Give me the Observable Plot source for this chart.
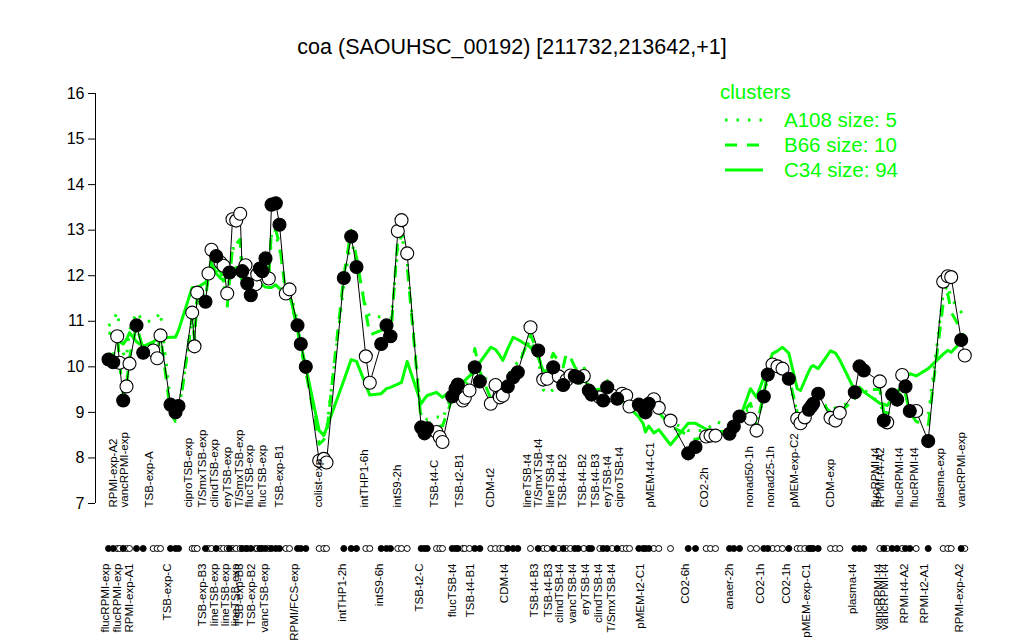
<!DOCTYPE html>
<html><head><meta charset="utf-8">
<script src="https://cdn.jsdelivr.net/npm/d3@7"></script>
<script src="https://cdn.jsdelivr.net/npm/@observablehq/plot@0.6"></script>
<style>
body{margin:0;background:#fff;font-family:"Liberation Sans",Arial,Helvetica,sans-serif;}
#wrap{position:relative;width:1024px;height:640px;overflow:hidden;}
#chart{position:absolute;left:0;top:0;}
#title{position:absolute;left:0;top:35px;width:1024px;text-align:center;font-size:21.5px;line-height:24px;color:#000;}
.leg{position:absolute;color:#00ff00;font-size:20.5px;line-height:24px;white-space:nowrap;}
.legsw{position:absolute;}
</style></head><body>
<div id="wrap"><div id="chart"></div><div id="title"></div><div id="legend"></div></div>
<script>
const titleText = "coa (SAOUHSC_00192) [211732,213642,+1]";

// sample positions along the x axis
const pos = [
8,12.7,16.7,19,22.7,26,29,36,42.7,52.7,
56.7,60,70,75,78,91.7,94,96.7,105,108,
111,115.7,120,123,126.7,129,132,135.7,139.7,141.7,
145,146.7,150.3,155,156.7,159.3,161.7,165,168.3,171,
175.3,179,185.3,189,197,200.3,205.3,218.7,223.3,226,
243.3,250.7,256,265.3,269.3,280.7,286,290,297.3,301,
306.7,320.7,324,326.7,336,339.3,342,351.7,355,357.3,
362.3,364.3,369,374.3,379.3,390.3,395,399.3,402.3,407.3,
412.7,417.3,430,437.7,442.7,446.7,452.7,458.3,462.7,466,
470,474.3,477.7,483.3,488.3,491,499.3,502.7,506.7,511.7,
516.7,521.7,525.7,529,538.3,542.7,545,548.3,553.3,558.3,
570,587.7,595,605.7,610,615,629,633.3,639,650,
656,663.3,667.3,672,677,682,688.3,696.7,700,704.3,
708.3,710.7,712.7,717.7,730,735,739.3,754.3,759,763.3,
779.3,783.3,786.7,791.7,796.7,801.7,805,809.3,815.7,827.7,
842.7,847.3,850.7,860.7,864.3];

const values = [
10.16,10.10,10.67,10.09,9.26,9.57,10.07,10.91,10.31,10.36,
10.19,10.69,9.17,9.0,9.14,11.19,10.45,11.63,11.43,12.05,
12.57,12.43,12.29,12.22,11.61,12.07,13.24,13.21,13.36,12.1,
12.23,11.83,11.57,11.81,12.03,12.16,12.1,12.38,11.94,13.56,
13.59,13.12,11.61,11.7,10.91,10.5,10.0,7.94,7.98,7.9,
11.95,12.86,12.19,10.23,9.65,10.5,10.91,10.67,12.98,13.22,
12.49,8.67,8.54,8.65,8.57,8.46,8.35,9.35,9.52,9.61,
9.26,9.32,9.48,9.99,9.68,9.19,9.6,9.33,9.37,9.57,
9.77,9.88,10.87,10.36,9.72,9.74,9.99,9.79,9.6,9.71,
9.81,9.8,9.76,9.8,9.48,9.39,9.33,9.26,9.55,9.37,
9.3,9.41,9.37,9.13,9.17,9.09,9.0,9.19,9.29,9.1,
8.82,8.1,8.24,8.47,8.49,8.49,8.53,8.69,8.91,8.86,
8.6,9.35,9.83,10.05,10.01,9.96,9.74,8.86,8.76,8.89,
9.06,9.13,9.19,9.41,8.88,8.82,8.99,9.44,10.01,9.92,
9.68,8.82,8.78,9.39,9.28,9.82,9.57,9.03,9.03,8.37,
11.87,11.99,11.97,10.59,10.25];

const filled = [
1,1,0,0,1,0,0,1,1,0,
0,0,1,1,1,0,0,0,1,0,
0,1,0,0,0,1,0,0,0,1,
0,1,1,0,0,1,1,1,0,1,
1,1,0,0,1,1,1,0,0,0,
1,1,1,0,0,1,1,1,0,0,
0,1,1,1,0,0,0,1,1,1,
0,0,0,1,1,0,0,0,0,1,
1,1,0,1,0,0,1,0,1,0,
0,1,1,0,1,1,0,1,1,0,
1,0,0,0,1,1,1,1,0,0,
0,1,1,0,0,0,1,1,1,0,
0,1,1,0,0,0,1,0,0,0,
1,1,1,1,0,0,0,1,1,1,
0,1,0,1,1,0,1,1,0,1,
0,0,0,1,0];

const C34 = [
10.75,10.7,10.6,10.55,10.5,10.6,10.75,10.55,10.45,10.55,
10.6,10.62,10.65,10.65,10.8,11.74,11.74,11.74,11.85,12.0,
12.27,12.05,11.95,11.9,12.0,12.05,12.12,12.18,12.0,11.9,
11.9,11.85,11.8,11.78,11.76,11.74,11.8,11.75,11.74,11.74,
11.8,11.72,11.68,11.6,10.87,10.5,10.0,8.6,8.5,8.65,
9.7,10.16,10.12,9.6,9.38,9.41,9.52,9.55,9.62,9.66,
10.12,9.19,9.3,9.37,9.44,9.38,9.33,9.5,9.52,9.55,
9.65,9.7,9.8,9.88,10.1,10.43,10.38,10.25,10.14,10.4,
10.65,10.6,10.43,10.2,9.92,9.9,9.85,9.81,9.8,9.8,
9.8,9.78,9.78,9.7,9.6,9.55,9.45,9.4,9.33,9.3,
9.28,9.25,9.2,9.1,8.9,8.75,8.57,8.7,8.55,8.62,
8.29,8.76,8.76,8.63,8.6,8.58,8.58,8.6,8.85,9.52,
9.33,9.77,10.0,10.29,10.35,10.43,10.3,9.52,9.48,9.7,
9.9,10.0,10.03,9.96,10.35,10.3,10.15,9.48,9.55,9.45,
9.2,9.18,9.15,9.3,9.45,9.6,9.75,9.85,9.8,9.96,
10.28,10.36,10.32,10.55,10.6];

const B66 = [
10.3,10.2,10.8,10.1,9.4,9.6,10.2,10.9,10.4,10.5,
10.3,10.7,9.0,8.8,8.9,11.1,10.6,11.5,11.5,12.0,
12.4,12.2,12.1,11.9,11.3,11.9,12.6,12.7,12.8,12.0,
12.0,11.8,11.6,11.8,11.9,12.0,12.0,12.2,12.0,13.0,
13.0,12.7,11.6,11.6,10.8,10.4,9.9,8.3,8.4,8.5,
12.0,13.0,12.4,11.2,10.7,10.8,10.8,10.6,12.8,13.0,
12.2,8.8,8.7,8.75,8.8,8.7,8.7,9.3,9.5,9.6,
9.3,9.4,9.6,10.4,9.9,9.3,9.7,9.4,9.5,9.7,
9.9,10.0,10.7,10.3,9.8,9.9,10.3,10.1,10.0,10.3,
10.2,10.0,9.9,10.0,9.6,9.5,9.5,9.6,9.7,9.5,
9.4,9.4,9.2,9.05,9.1,9.0,8.9,9.1,9.2,9.0,
8.7,8.5,8.4,8.5,8.55,8.5,8.6,8.7,8.9,9.2,
8.7,9.4,9.9,10.1,10.0,10.0,9.8,9.0,8.9,9.0,
9.05,9.1,9.15,9.3,9.0,8.9,9.0,9.3,9.5,9.5,
9.5,9.0,9.0,9.3,9.4,9.5,9.4,9.0,8.8,8.7,
11.4,11.6,11.2,10.8,10.6];

const A108 = [
10.9,11.0,11.2,10.9,10.3,10.2,10.8,11.2,11.0,11.0,
11.1,11.2,9.2,9.0,9.0,11.0,10.9,11.5,11.6,12.0,
12.3,12.2,12.0,11.9,11.5,12.0,12.6,12.6,12.7,12.0,
11.9,11.7,11.6,11.8,11.9,12.0,12.0,12.3,11.9,12.9,
12.9,12.6,11.7,11.7,11.0,10.5,10.0,8.5,8.5,8.6,
11.8,12.8,12.3,11.3,11.1,11.1,11.0,10.9,12.6,12.9,
12.3,8.9,8.8,8.85,8.9,8.9,8.85,9.4,9.5,9.6,
9.5,9.6,9.7,10.0,9.9,9.6,9.8,9.6,9.6,9.8,
10.0,10.1,10.6,10.2,9.5,9.4,9.5,9.6,9.5,9.7,
9.8,9.7,9.6,9.7,9.5,9.4,9.4,9.4,9.5,9.4,
9.35,9.3,9.2,9.1,9.15,9.1,9.1,9.15,9.2,9.1,
8.8,8.6,8.6,8.6,8.7,8.8,8.7,8.75,8.9,9.1,
8.8,9.3,9.8,10.0,10.0,9.95,9.7,9.0,8.95,9.0,
9.1,9.1,9.2,9.3,9.05,9.1,9.1,9.3,9.6,9.5,
9.2,9.0,8.95,9.1,9.2,9.6,9.4,9.1,9.0,8.9,
11.6,11.8,11.5,11.2,11.0];

// tick labels, upper row
const topLabelText = ["RPMI-exp-A2","vancRPMI-exp","TSB-exp-A","ciproTSB-exp","T/SmxTSB-exp","clindTSB-exp","eryTSB-exp","T/SmxTSB-exp","flucTSB-exp","flucTSB-exp","TSB-exp-B1","colist-exp","intTHP1-6h","intS9-2h","TSB-t4-C","TSB-t2-B1","CDM-t2","lineTSB-t4","T/SmxTSB-t4","lineTSB-t4","TSB-t4-B2","TSB-t4-B2","TSB-t4-B3","eryTSB-t4","ciproTSB-t4","pMEM-t4-C1","CO2-2h","nonad50-1h","nonad25-1h","pMEM-exp-C2","CDM-exp","flucRPMI-t4","RPMI-t4-A2","flucRPMI-t4","flucRPMI-t4","plasma-exp","vancRPMI-exp"];
const topLabelPos = [16,27,52,91,105,117,130,142,152,165,182,221,267,300,337,362,393,430,441,453,465,485,498,510,522,553,607,652,673,697,733,778,783,802,817,843,864];
// tick labels, lower row
const bottomLabelText = ["flucRPMI-exp","flucRPMI-exp","RPMI-exp-A1","TSB-exp-C","TSB-exp-B3","lineTSB-exp","lineTSB-exp","lineTSB-exp","TSB-exp-B3","TSB-exp-B2","vancTSB-exp","RPMI/FCS-exp","intTHP1-2h","intS9-6h","TSB-t2-C","flucTSB-t4","TSB-t4-B1","CDM-t4","TSB-t4-B3","TSB-t4-B3","clindTSB-t4","vancTSB-t4","eryTSB-t4","clindTSB-t4","T/SmxTSB-t4","pMEM-t2-C1","CO2-6h","anaer-2h","CO2-1h","CO2-1h","pMEM-exp-C1","plasma-t4","vancRPMI-t4","vancRPMI-t4","RPMI-t4-A2","RPMI-t2-A1","RPMI-exp-A2"];
const bottomLabelPos = [8,20,32,70,105,117,128,138,142,154,167,197,245,282,322,355,373,407,437,451,462,475,488,501,514,543,588,632,663,689,709,755,781,787,807,827,862];

const yTicks = [7,8,9,10,11,12,13,14,15,16];
const clusterNames = ["A108","B66","C34"];
const clusterSizes = [5,10,94];
const clusterDash = ["2.5,9","12,10",null];

const green = "#00ff00";
const fontFamily = '"Liberation Sans", Arial, Helvetica, sans-serif';
const xDomain = [-5, 875];

const samples = pos.map((p,i)=>({pos:p, value:values[i], filled:filled[i]===1, a108:A108[i], b66:B66[i], c34:C34[i]}));
const topLabels = topLabelText.map((t,i)=>({t, x:topLabelPos[i]}));
const bottomLabels = bottomLabelText.map((t,i)=>({t, x:bottomLabelPos[i]}));
const clusterKeys = ["a108","b66","c34"];

const chart = Plot.plot({
  width:1024, height:640,
  marginLeft:95, marginRight:49, marginTop:93, marginBottom:137,
  x:{domain:xDomain, axis:null},
  y:{domain:[7,16]},
  style:{fontFamily, background:"white", color:"black", overflow:"visible"},
  marks:[
    Plot.ruleX([xDomain[0]], {y1:yTicks[0], y2:yTicks[yTicks.length-1], stroke:"black", strokeWidth:1}),
    Plot.axisY({ticks:yTicks, tickSize:7, tickPadding:4, fontSize:16, label:null, tickFormat:d=>String(d)}),
    ...clusterKeys.map((k,i)=>Plot.line(samples,{x:"pos", y:k, stroke:green, strokeWidth:3,
        strokeDasharray: clusterDash[i] ?? undefined, strokeLinecap:"butt"})),
    Plot.line(samples,{x:"pos", y:"value", stroke:"black", strokeWidth:1}),
    Plot.dot(samples,{filter:d=>!d.filled, x:"pos", y:"value", r:6.5, fill:"white", stroke:"black", strokeWidth:1.1}),
    Plot.dot(samples,{filter:d=>d.filled, x:"pos", y:"value", r:6.5, fill:"black", stroke:"black", strokeWidth:1.1}),
    Plot.dot(samples,{filter:d=>!d.filled, x:"pos", frameAnchor:"bottom", dy:45, r:3, fill:"white", stroke:"black", strokeWidth:1}),
    Plot.dot(samples,{filter:d=>d.filled, x:"pos", frameAnchor:"bottom", dy:45, r:3, fill:"black", stroke:"black", strokeWidth:1}),
    Plot.text(topLabels,{x:"x", text:"t", frameAnchor:"bottom", dy:4, rotate:-90, textAnchor:"start", fontSize:11.5, fill:"black"}),
    Plot.text(bottomLabels,{x:"x", text:"t", frameAnchor:"bottom", dy:60, rotate:-90, textAnchor:"end", fontSize:11.5, fill:"black"})
  ]
});
document.getElementById("chart").appendChild(chart);
document.getElementById("title").textContent = titleText;

// legend
const leg = document.getElementById("legend");
const head = document.createElement("div");
head.className = "leg"; head.style.left = "720px"; head.style.top = "80px"; head.textContent = "clusters";
leg.appendChild(head);
clusterNames.forEach((n,i)=>{
  const cy = 120 + 25*i;
  const sw = document.createElementNS("http://www.w3.org/2000/svg","svg");
  sw.setAttribute("class","legsw"); sw.setAttribute("width","50"); sw.setAttribute("height","24");
  sw.style.left = "722px"; sw.style.top = (cy-12)+"px";
  const ln = document.createElementNS("http://www.w3.org/2000/svg","line");
  ln.setAttribute("x1","3"); ln.setAttribute("x2","41"); ln.setAttribute("y1","12"); ln.setAttribute("y2","12");
  ln.setAttribute("stroke",green); ln.setAttribute("stroke-width","3");
  if (clusterDash[i]) ln.setAttribute("stroke-dasharray", clusterDash[i]);
  sw.appendChild(ln); leg.appendChild(sw);
  const t = document.createElement("div");
  t.className = "leg"; t.style.left = "784px"; t.style.top = (cy-12)+"px";
  t.textContent = n + " size: " + clusterSizes[i];
  leg.appendChild(t);
});
</script>
</body></html>
